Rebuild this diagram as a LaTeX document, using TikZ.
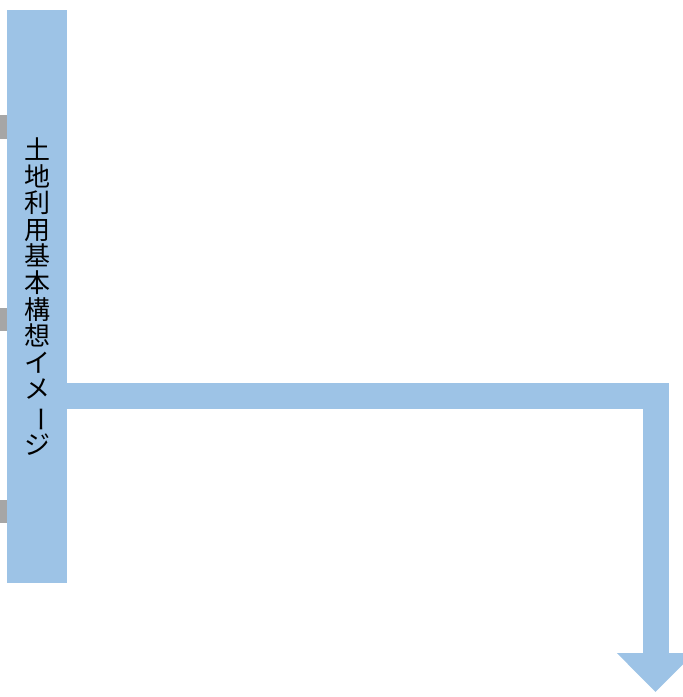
\documentclass[tikz,border=0pt]{standalone}
\usepackage{fontspec}
\newfontfamily\cjk{Noto Sans CJK JP}
\usetikzlibrary{arrows.meta}
\definecolor{barblue}{HTML}{9DC3E6}
\definecolor{markgray}{HTML}{A6A6A6}
\tikzset{
  mark/.style={fill=markgray,draw=none},
  bar/.style={fill=barblue,draw=none,minimum width=60pt,minimum height=573pt,inner sep=0pt,
    font=\cjk\fontsize{26}{26.6}\selectfont,align=center,text=black},
  flow/.style={draw=barblue,line width=26pt,line join=miter,
    -{Triangle[width=75pt,length=39pt]}}
}
\newcommand{\vbar}{\rotatebox[origin=c]{-90}{ー}}
\begin{document}
\begin{tikzpicture}[x=1pt,y=-1pt]
\useasboundingbox (0,0) rectangle (683,697);

\fill[markgray] (0,115) rectangle (10,139);
\fill[markgray] (0,308) rectangle (10,331);
\fill[markgray] (0,500) rectangle (10,523);

\node[bar] (bar) at (37,296.5) {土\\地\\利\\用\\基\\本\\構\\想\\イ\\メ\\\vbar\\ジ};

\coordinate (bend) at (655.5,396);
\coordinate (tip) at (655.5,692);
\draw[flow] (bar.east |- bend) -- (bend) -- (tip);
\end{tikzpicture}
\end{document}
